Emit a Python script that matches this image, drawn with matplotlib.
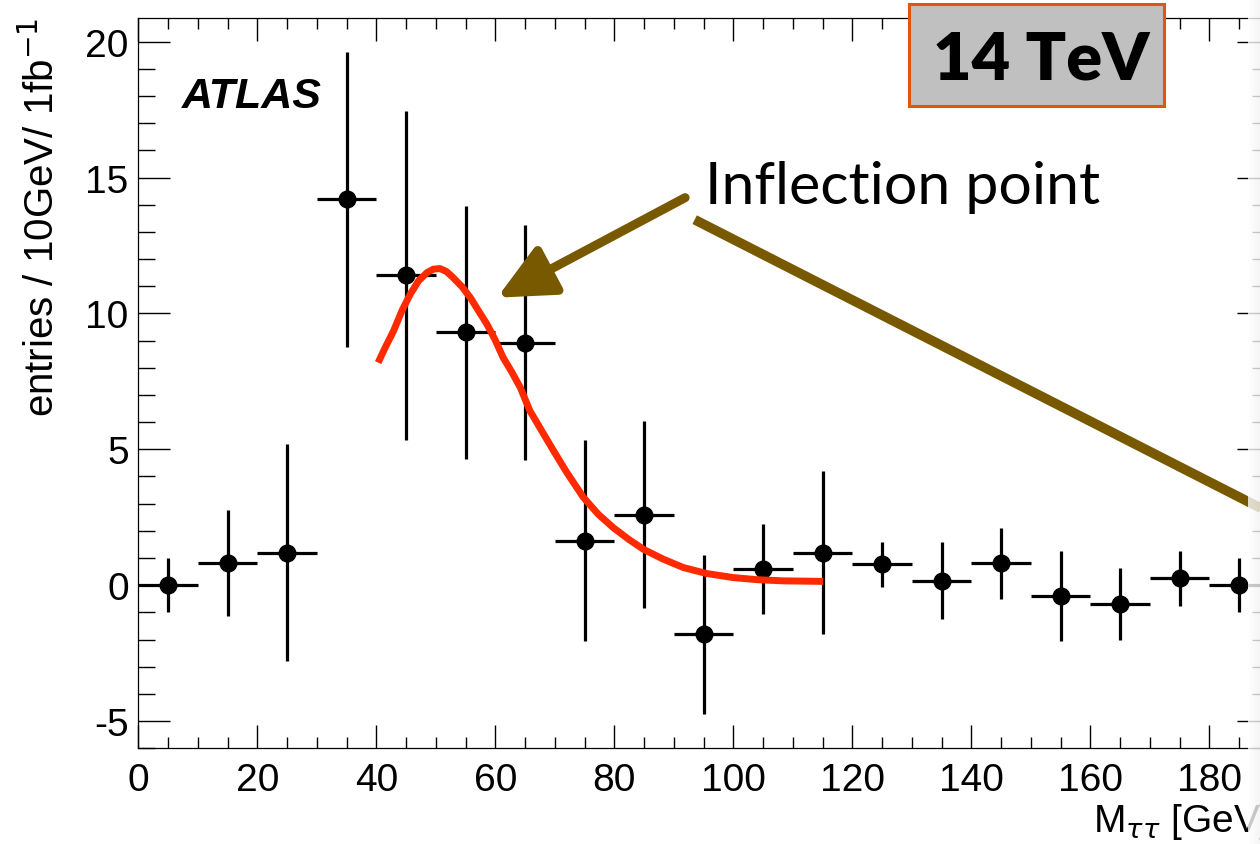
import matplotlib
matplotlib.use("Agg")
import matplotlib.pyplot as plt
import numpy as np
from matplotlib.patches import Rectangle
from matplotlib.ticker import MultipleLocator

# bin centres and contents
mass = [5, 15, 25, 35, 45, 55, 65, 75, 85, 95, 105, 115, 125, 135, 145, 155, 165, 175, 185]
entries = [0.0, 0.8, 1.2, 14.2, 11.4, 9.3, 8.93, 1.64, 2.6, -1.81, 0.6, 1.2, 0.77, 0.17, 0.8, -0.39, -0.7, 0.25, 0.0]
errors = [1.0, 1.95, 4.0, 5.43, 6.05, 4.67, 4.32, 3.7, 3.45, 2.92, 1.65, 3.0, 0.83, 1.42, 1.3, 1.66, 1.33, 1.0, 1.0]
bin_half_width = 5

# red fit curve
fit_x = [40.3, 41.5, 42.9, 44.3, 45.7, 47.1, 48.5, 49.6, 50.7, 51.8, 52.9, 54.4, 55.8, 57.1,
         58.6, 60.0, 61.3, 62.8, 64.2, 65.8, 67.8, 69.8, 72.0, 74.8, 77.3, 79.8, 82.4, 84.9,
         88.2, 91.6, 95.5, 100.0, 104.2, 108.4, 115.1]
fit_y = [8.19, 8.75, 9.36, 10.10, 10.71, 11.20, 11.50, 11.63, 11.65, 11.54, 11.32, 10.98, 10.58, 10.12,
         9.60, 9.01, 8.38, 7.83, 7.27, 6.42, 5.68, 4.94, 4.15, 3.23, 2.61, 2.12, 1.69, 1.32,
         0.96, 0.65, 0.43, 0.28, 0.20, 0.16, 0.14]

brown = "#785900"

plt.rcParams['font.family'] = ['Liberation Sans', 'DejaVu Sans']
plt.rcParams['axes.unicode_minus'] = False

fig = plt.figure(figsize=(12.6, 8.45), dpi=100)
ax = fig.add_axes([0.1098, 0.1133, 0.8972, 0.8642])

# data points with full-bin horizontal bars
ax.errorbar(mass, entries, xerr=bin_half_width, yerr=errors, fmt='o', color='black',
            markersize=12, elinewidth=2.3, capsize=0, zorder=3)

# fit
ax.plot(fit_x, fit_y, color='#ff2a00', linewidth=5, solid_capstyle='butt',
        solid_joinstyle='round', zorder=4)

ax.set_xlim(0, 190)
ax.set_ylim(-6, 20.87)

ax.xaxis.set_major_locator(MultipleLocator(20))
ax.xaxis.set_minor_locator(MultipleLocator(5))
ax.yaxis.set_major_locator(MultipleLocator(5))
ax.yaxis.set_minor_locator(MultipleLocator(1))

ax.tick_params(which='both', direction='in', top=True, right=True, width=1.0, labelsize=28)
ax.tick_params(axis='x', which='major', length=16.5, pad=10)
ax.tick_params(axis='x', which='minor', length=8)
ax.tick_params(axis='y', which='major', length=23, pad=7)
ax.tick_params(axis='y', which='minor', length=12)
for spine in ax.spines.values():
    spine.set_linewidth(0.9)

# axis titles, ROOT style (aligned to the ends)
fig.text(42 / 1260, 1 - 18 / 845, r"entries / 10GeV/ 1fb$^{-1}$", rotation=90,
         ha='center', va='top', fontsize=29)
ax.text(1.0, -0.072, r"M$_{\tau\tau}$ [GeV]", transform=ax.transAxes,
        ha='right', va='top', fontsize=28)

ax.text(182 / 1260, 1 - 108 / 845, "ATLAS", transform=fig.transFigure,
        fontsize=31, fontweight='bold', fontstyle='italic', ha='left', va='baseline')

# annotation: arrow and pointer line
ax.annotate("", xy=(60.3, 10.58), xytext=(91.9, 14.26),
            arrowprops=dict(arrowstyle="-|>,head_length=1.9,head_width=0.9",
                            mutation_scale=18, color=brown, lw=6.5,
                            shrinkA=0, shrinkB=0), zorder=5)
ax.plot([93.5, 200], [13.45, 1.57], color=brown, linewidth=7, solid_capstyle='butt',
        clip_on=False, zorder=5)
ax.text(95.2, 14.08, "Inflection point", family=['Lato', 'DejaVu Sans'], fontsize=42.5,
        ha='left', va='baseline', zorder=6)

# energy box
box = Rectangle((909 / 1260, 1 - 107 / 845), 255 / 1260, 102 / 845, transform=fig.transFigure,
                facecolor='#c0c0c0', edgecolor='#e0560a', linewidth=2.2, zorder=10)
fig.patches.append(box)
fig.text(1041.5 / 1260, 1 - 80 / 845, "14 TeV", family=['Lato', 'DejaVu Sans'],
         fontweight='heavy', fontsize=48, ha='center', va='baseline', zorder=11)

# soft shadow along the cropped right edge
shade = fig.add_axes([1248 / 1260, 0, 12 / 1260, 1], zorder=20)
shade.imshow(np.linspace(0, 1, 32)[None, :], cmap='Greys', vmin=0, vmax=10,
             aspect='auto', alpha=0.8, interpolation='bilinear')
shade.axis('off')

fig.savefig("out.png", dpi=100)
